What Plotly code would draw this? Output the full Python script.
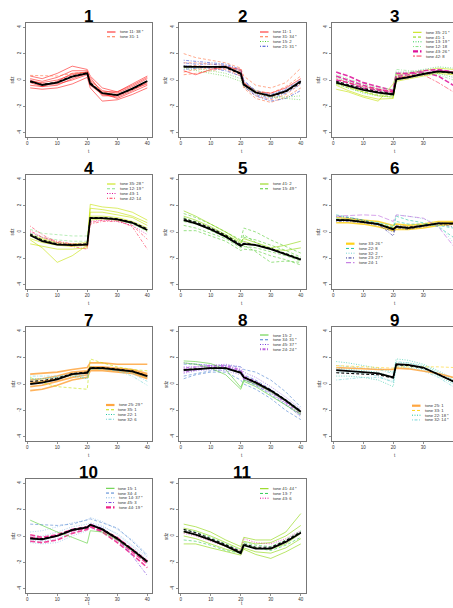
import plotly.graph_objects as go

# ---------------- data ----------------
X = [1, 5, 10, 15, 20, 21, 25, 30, 35, 40]
X_TICKS = [0, 10, 20, 30, 40]
Y_TICKS = [-4, -2, 0, 2, 4]
Y_TICK_TEXT = ["-4", "-2", "0", "2", "4"]
PANEL_TITLES = ["1", "2", "3", "4", "5", "6", "7", "8", "9", "10", "11"]
X_LABEL = "t"
Y_LABEL = "sdz"

TONE_COLORS = {
    11: "#FF1A1A", 31: "#FF7040", 15: "#55CC33", 21: "#3344CC", 35: "#C4E100",
    41: "#88D400", 13: "#33CC55", 12: "#88E088", 43: "#DD1199", 42: "#FF3355",
    33: "#FFD21A", 22: "#22C5A0", 32: "#77D5D5", 23: "#333399", 24: "#BB66DD",
    25: "#FFA640", 34: "#4A80D0", 45: "#7A44DD", 14: "#7FB5E5", 44: "#EE2288",
}

P1_LEGEND = ["tone 11: 38 *", "tone 31: 1"]
P1_TONES = [11, 31]
P1_CURVES = [
    (11, [0.3, 0.1, 0.5, 1.05, 0.8, 0.3, -0.6, -0.9, -0.3, 0.3]),
    (11, [0.1, -0.1, 0.2, 0.7, 0.7, 0.0, -0.8, -1.0, -0.5, 0.1]),
    (11, [-0.2, -0.5, -0.4, 0.1, 0.5, -0.4, -1.1, -1.3, -0.8, -0.2]),
    (11, [-0.6, -0.7, -0.6, -0.3, 0.2, -0.6, -1.6, -1.5, -1.1, -0.6]),
    (11, [-0.4, -0.5, -0.1, 0.5, 0.6, -0.1, -1.2, -1.2, -0.7, -0.3]),
    (11, [0.0, -0.3, -0.3, 0.0, 0.4, 0.2, -1.0, -1.4, -0.9, -0.4]),
    (11, [-0.1, -0.2, 0.0, 0.4, 0.6, -0.3, -0.9, -0.9, -0.4, 0.2]),
    (31, [0.35, 0.35, 0.3, 0.5, 0.6, 0.0, -0.9, -1.1, -0.7, -0.1]),
]
P1_MEAN = [-0.08, -0.38, -0.2, 0.25, 0.5, -0.3, -1.0, -1.15, -0.65, -0.08]
P1_MEAN2 = [-0.15, -0.35, -0.15, 0.3, 0.55, -0.2, -1.0, -1.15, -0.7, -0.1]

P2_LEGEND = ["tone 11: 1", "tone 31: 34 *", "tone 15: 2", "tone 21: 31 *"]
P2_TONES = [11, 31, 15, 21]
P2_CURVES = [
    (31, [2.0, 1.7, 1.5, 1.3, 0.9, 0.3, -0.4, -0.6, -0.2, 0.9]),
    (31, [1.3, 1.3, 1.2, 1.1, 0.6, -0.2, -0.8, -1.0, -0.5, 0.3]),
    (31, [0.6, 0.8, 0.9, 0.8, 0.3, -0.5, -1.2, -1.5, -1.1, -0.3]),
    (31, [1.0, 1.1, 1.0, 1.0, 0.7, -0.4, -1.0, -1.3, -0.9, -0.1]),
    (31, [0.4, 0.5, 0.7, 0.9, 0.4, -0.6, -1.4, -1.7, -1.3, -0.6]),
    (21, [1.3, 1.2, 1.2, 1.1, 0.7, -0.1, -0.8, -1.1, -0.7, 0.0]),
    (21, [0.8, 0.9, 1.0, 0.9, 0.5, -0.4, -1.1, -1.4, -1.0, -0.3]),
    (21, [1.5, 1.4, 1.3, 1.2, 0.8, 0.0, -0.9, -1.2, -0.8, -0.2]),
    (21, [1.1, 1.0, 0.9, 0.7, 0.3, -0.5, -1.2, -1.6, -1.4, -0.8]),
    (11, [0.7, 0.4, 0.8, 1.0, 0.8, -0.2, -0.9, -1.0, -0.6, 0.1]),
    (15, [0.9, 0.7, 0.5, 0.3, -0.1, -0.5, -1.0, -1.3, -1.4, -1.5]),
    (15, [1.0, 0.9, 0.7, 0.5, 0.1, -0.3, -0.8, -1.2, -1.3, -1.2]),
]
P2_MEAN = [1.0, 1.0, 1.05, 1.0, 0.5, -0.35, -0.95, -1.2, -0.85, -0.1]
P2_MEAN2 = [1.05, 1.05, 1.0, 0.95, 0.45, -0.3, -0.95, -1.25, -0.9, -0.2]

P3_LEGEND = ["tone 35: 21 *", "tone 41: 1", "tone 13: 19 *", "tone 12: 18", "tone 43: 26 *", "tone 42: 8"]
P3_TONES = [35, 41, 13, 12, 43, 42]
P3_CURVES = [
    (35, [-0.4, -0.8, -1.2, -1.45, -1.4, 0.2, 0.3, 0.5, 0.6, 0.5]),
    (35, [-0.7, -0.9, -1.3, -1.6, -0.3, 0.4, 0.5, 0.7, 0.9, 0.8]),
    (35, [-0.2, -0.5, -0.9, -1.2, -1.3, -0.1, 0.1, 0.3, 0.5, 0.4]),
    (43, [0.6, 0.3, -0.2, -0.5, -0.8, 0.5, 0.5, 0.7, 0.8, 0.6]),
    (43, [0.3, 0.0, -0.4, -0.7, -0.9, 0.3, 0.4, 0.6, 0.3, -0.4]),
    (43, [0.0, -0.2, -0.6, -0.8, -1.0, 0.2, 0.2, 0.5, 0.7, 0.6]),
    (13, [0.2, -0.1, -0.5, -0.8, -1.0, 0.6, 0.6, 0.8, 1.0, 0.9]),
    (13, [-0.3, -0.6, -1.0, -1.2, -1.3, 0.0, 0.2, 0.4, 0.5, 0.2]),
    (12, [0.4, 0.1, -0.3, -0.6, -0.7, 0.8, 0.7, 0.6, 0.4, 0.0]),
    (12, [-0.1, -0.4, -0.8, -1.0, -1.1, 0.3, 0.4, 0.5, 0.6, 0.5]),
    (42, [0.1, -0.2, -0.5, -0.7, -0.9, 0.1, 0.3, 0.4, -0.2, -0.9]),
    (41, [-0.3, -0.6, -0.9, -1.1, -1.2, 0.0, 0.2, 0.4, 0.6, 0.6]),
]
P3_MEAN = [-0.2, -0.45, -0.75, -0.95, -1.1, 0.05, 0.2, 0.45, 0.65, 0.55]
P3_MEAN2 = [-0.1, -0.35, -0.65, -0.9, -1.05, 0.1, 0.25, 0.5, 0.65, 0.5]

P4_LEGEND = ["tone 35: 28 *", "tone 12: 19 *", "tone 43: 1", "tone 42: 14"]
P4_TONES = [35, 12, 43, 42]
P4_CURVES = [
    (35, [-0.2, -0.5, -0.8, -0.9, -0.8, 2.1, 1.9, 1.8, 1.5, 0.9]),
    (35, [-0.5, -0.8, -1.0, -1.1, -1.0, 1.5, 1.5, 1.3, 1.1, 0.5]),
    (35, [-0.9, -1.1, -1.3, -1.3, -1.2, 0.9, 1.0, 0.9, 0.7, 0.1]),
    (35, [-0.6, -1.2, -2.3, -1.8, -1.0, 1.2, 1.2, 1.1, 0.8, 0.3]),
    (35, [-0.3, -0.6, -0.9, -1.0, -0.9, 1.8, 1.7, 1.5, 1.2, 0.7]),
    (12, [0.2, -0.1, -0.2, -0.3, -0.3, 1.1, 1.1, 1.0, 0.7, 0.0]),
    (12, [-0.1, -0.4, -0.6, -0.7, -0.7, 1.0, 1.0, 0.9, 0.6, 0.1]),
    (42, [0.45, -0.2, -0.8, -1.1, -1.3, 0.6, 0.8, 0.8, 0.5, -0.55]),
    (42, [0.1, -0.4, -0.7, -0.9, -1.1, 0.7, 0.9, 0.9, 0.4, -1.3]),
    (43, [0.0, -0.4, -0.8, -0.9, -0.9, 0.8, 0.9, 0.8, 0.5, -0.2]),
]
P4_MEAN = [-0.25, -0.7, -0.95, -1.0, -0.95, 1.05, 1.05, 0.95, 0.7, 0.15]
P4_MEAN2 = [-0.15, -0.6, -0.9, -0.95, -0.9, 1.1, 1.1, 1.0, 0.75, 0.25]

P5_LEGEND = ["tone 41: 2", "tone 15: 49 *"]
P5_TONES = [41, 15]
P5_CURVES = [
    (15, [1.4, 1.1, 0.6, 0.0, -0.6, 0.3, 0.0, -0.6, -1.1, -1.6]),
    (15, [1.0, 0.8, 0.3, -0.2, -0.9, -0.4, -0.6, -1.0, -1.4, -1.9]),
    (15, [0.5, 0.3, -0.1, -0.5, -1.2, -1.1, -1.2, -1.5, -1.8, -2.2]),
    (15, [0.1, 0.1, -0.3, -0.7, -1.4, -1.3, -1.4, -1.8, -2.1, -2.5]),
    (15, [0.8, 0.6, 0.2, -0.3, -1.0, -0.2, -0.8, -1.3, -1.6, -2.0]),
    (15, [1.1, 0.7, 0.1, -0.4, -1.1, -1.0, -1.5, -2.3, -2.2, -2.3]),
    (41, [1.6, 1.2, 0.6, 0.0, -0.7, -0.5, -0.8, -1.2, -1.0, -0.7]),
    (41, [1.2, 0.9, 0.4, -0.2, -0.8, -0.7, -1.0, -1.3, -1.4, -1.2]),
]
P5_MEAN = [0.9, 0.65, 0.2, -0.35, -1.05, -0.9, -1.0, -1.3, -1.7, -2.1]
P5_MEAN2 = [1.0, 0.75, 0.3, -0.25, -0.95, -0.85, -0.95, -1.25, -1.65, -2.05]

P6_LEGEND = ["tone 33: 26 *", "tone 22: 8", "tone 32: 2", "tone 23: 27 *", "tone 24: 1"]
P6_TONES = [33, 22, 32, 23, 24]
P6_CURVES = [
    (33, [1.1, 1.0, 0.9, 0.8, 0.5, 0.6, 0.5, 0.6, 0.8, 0.8]),
    (33, [0.7, 0.7, 0.6, 0.4, 0.1, 0.2, 0.2, 0.3, 0.5, 0.6]),
    (33, [0.9, 0.9, 0.8, 0.6, 0.3, 0.4, 0.35, 0.45, 0.65, 0.7]),
    (23, [1.2, 1.1, 0.9, 0.6, -0.3, 0.5, 0.4, 0.5, 0.7, 0.6]),
    (23, [0.8, 0.8, 0.7, 0.5, 0.0, 0.3, 0.2, 0.4, 0.6, 0.4]),
    (22, [1.0, 0.9, 0.8, 0.6, 0.3, 1.2, 0.9, 0.7, 0.4, -0.4]),
    (22, [1.3, 1.1, 0.9, 0.7, 0.4, 0.8, 0.6, 0.6, 0.5, 0.3]),
    (32, [1.1, 1.0, 0.8, 0.7, 0.5, 1.3, 1.2, 1.0, 0.6, -0.8]),
    (24, [1.2, 1.25, 1.3, 1.25, 0.8, 1.3, 1.2, 1.05, 0.4, -1.05]),
]
P6_MEAN = [0.9, 0.9, 0.75, 0.6, 0.2, 0.4, 0.3, 0.45, 0.65, 0.65]
P6_MEAN2 = [0.95, 0.9, 0.8, 0.6, 0.25, 0.4, 0.35, 0.5, 0.65, 0.6]

P7_LEGEND = ["tone 25: 29 *", "tone 35: 1", "tone 22: 1", "tone 32: 6"]
P7_TONES = [25, 35, 22, 32]
P7_CURVES = [
    (25, [0.75, 0.8, 0.9, 1.1, 1.25, 1.6, 1.6, 1.5, 1.5, 1.5]),
    (25, [0.3, 0.4, 0.6, 0.9, 1.0, 1.3, 1.3, 1.2, 1.1, 0.8]),
    (25, [-0.2, -0.1, 0.2, 0.5, 0.7, 1.1, 1.1, 1.0, 0.9, 0.5]),
    (25, [-0.5, -0.4, -0.1, 0.3, 0.5, 1.0, 1.0, 0.9, 0.8, 0.4]),
    (25, [0.1, 0.2, 0.4, 0.7, 0.9, 1.2, 1.25, 1.15, 1.0, 0.7]),
    (35, [0.5, 0.1, -0.2, -0.3, -0.4, 1.9, 1.6, 1.3, 1.1, 1.0]),
    (22, [0.4, 0.4, 0.5, 0.6, 0.4, 1.3, 1.2, 1.1, 0.9, 0.5]),
    (32, [0.6, 0.6, 0.6, 0.7, 0.4, 1.2, 1.2, 1.0, 0.6, -0.1]),
    (32, [0.3, 0.4, 0.5, 0.7, 0.6, 1.1, 1.1, 1.0, 0.8, 0.2]),
]
P7_MEAN = [0.0, 0.1, 0.35, 0.75, 0.85, 1.2, 1.2, 1.1, 0.95, 0.6]
P7_MEAN2 = [0.2, 0.25, 0.45, 0.8, 0.9, 1.25, 1.25, 1.15, 1.0, 0.6]

P8_LEGEND = ["tone 15: 2", "tone 34: 31 *", "tone 45: 37 *", "tone 24: 24 *"]
P8_TONES = [15, 34, 45, 24]
P8_CURVES = [
    (34, [1.5, 1.5, 1.4, 1.4, 1.3, 1.1, 0.9, 0.3, -0.6, -1.75]),
    (34, [0.6, 0.8, 1.0, 1.1, 0.9, 0.3, -0.1, -0.8, -1.6, -2.4]),
    (34, [1.0, 1.1, 1.2, 1.2, 1.0, 0.7, 0.3, -0.4, -1.2, -2.0]),
    (34, [0.4, 0.7, 0.9, 0.9, 0.3, 0.0, -0.4, -1.1, -2.0, -2.7]),
    (45, [1.3, 1.3, 1.3, 1.2, 1.0, 0.6, 0.2, -0.5, -1.3, -2.2]),
    (45, [0.8, 1.0, 1.1, 1.0, 0.7, 0.4, -0.1, -0.7, -1.5, -2.5]),
    (45, [1.6, 1.5, 1.4, 1.5, 1.3, 0.9, 0.5, -0.2, -1.0, -1.9]),
    (24, [1.2, 1.3, 1.4, 1.4, 1.1, 0.6, 0.2, -0.5, -1.3, -2.1]),
    (24, [0.9, 1.1, 1.3, 1.3, 1.0, 0.4, 0.0, -0.6, -1.4, -2.3]),
    (15, [1.75, 1.7, 1.55, 1.1, -0.25, 0.3, 0.0, -0.6, -1.3, -2.2]),
    (15, [1.6, 1.5, 1.2, 0.7, -0.4, 0.2, -0.2, -0.9, -1.6, -2.3]),
]
P8_MEAN = [1.05, 1.1, 1.2, 1.2, 0.85, 0.5, 0.1, -0.5, -1.25, -2.1]
P8_MEAN2 = [1.1, 1.15, 1.2, 1.2, 0.9, 0.55, 0.15, -0.45, -1.2, -2.05]

P9_LEGEND = ["tone 25: 1", "tone 33: 1", "tone 22: 18 *", "tone 32: 14 *"]
P9_TONES = [25, 33, 22, 32]
P9_CURVES = [
    (22, [1.7, 1.6, 1.4, 1.2, 0.9, 1.9, 1.8, 1.5, 1.0, 0.4]),
    (22, [0.6, 0.6, 0.5, 0.3, -0.2, 1.4, 1.3, 1.1, 0.6, 0.0]),
    (22, [1.2, 1.1, 1.0, 0.9, 0.5, 1.6, 1.6, 1.4, 0.9, 0.3]),
    (32, [1.4, 1.3, 1.2, 1.1, 0.8, 1.7, 1.6, 1.3, 0.8, 0.1]),
    (32, [0.3, 0.4, 0.5, 0.5, 0.2, 1.3, 1.2, 1.0, 0.5, -0.2]),
    (32, [0.9, 0.9, 0.8, 0.6, 0.1, 1.5, 1.4, 1.2, 0.7, 0.2]),
    (25, [1.25, 1.2, 1.15, 1.1, 1.1, 1.2, 1.15, 1.0, 0.8, 0.5]),
    (33, [1.4, 1.35, 1.3, 1.25, 1.2, 1.3, 1.3, 1.35, 1.3, 1.25]),
]
P9_MEAN = [1.05, 1.0, 0.9, 0.8, 0.5, 1.5, 1.45, 1.25, 0.75, 0.2]
P9_MEAN2 = [0.85, 0.8, 0.75, 0.7, 0.45, 1.45, 1.4, 1.2, 0.75, 0.2]

P10_LEGEND = ["tone 15: 1", "tone 34: 4", "tone 14: 37 *", "tone 45: 3", "tone 44: 19 *"]
P10_TONES = [15, 34, 14, 45, 44]
P10_CURVES = [
    (14, [0.3, 0.4, 0.7, 1.0, 1.2, 1.4, 1.1, 0.5, -0.3, -1.4]),
    (14, [-0.5, -0.6, -0.5, 0.0, 0.4, 0.6, 0.3, -0.4, -1.2, -2.1]),
    (14, [0.0, 0.0, 0.3, 0.7, 0.9, 1.0, 0.8, 0.1, -0.8, -1.8]),
    (14, [-0.3, -0.4, -0.2, 0.3, 0.6, 0.9, 0.7, 0.2, -0.7, -1.6]),
    (44, [0.1, -0.1, 0.1, 0.5, 0.7, 0.9, 0.5, -0.3, -1.2, -2.1]),
    (44, [-0.4, -0.5, -0.3, 0.2, 0.5, 0.7, 0.3, -0.5, -1.4, -2.4]),
    (44, [-0.1, -0.2, 0.0, 0.4, 0.6, 0.8, 0.4, -0.1, -1.0, -1.9]),
    (45, [-0.2, -0.3, 0.0, 0.5, 0.7, 0.9, 0.6, -0.2, -1.5, -3.0]),
    (34, [0.9, 0.85, 0.8, 0.9, 1.2, 1.3, 1.0, 0.6, -0.4, -1.5]),
    (15, [1.2, 0.8, 0.3, -0.1, -0.55, 0.4, 0.3, -0.3, -1.1, -2.0]),
]
P10_MEAN = [-0.2, -0.25, 0.0, 0.45, 0.65, 0.85, 0.5, -0.2, -1.05, -1.95]
P10_MEAN2 = [-0.15, -0.2, 0.05, 0.5, 0.7, 0.85, 0.55, -0.15, -1.0, -1.9]

P11_LEGEND = ["tone 41: 44 *", "tone 13: 7", "tone 43: 6"]
P11_TONES = [41, 13, 43]
P11_CURVES = [
    (41, [0.9, 0.7, 0.3, -0.3, -0.8, -0.1, -0.3, -0.3, 0.3, 1.7]),
    (41, [0.6, 0.4, 0.0, -0.5, -1.0, -0.4, -0.6, -0.5, 0.0, 0.8]),
    (41, [0.0, -0.2, -0.6, -1.0, -1.3, -0.9, -1.2, -1.3, -0.9, -0.2]),
    (41, [-0.6, -0.6, -0.9, -1.2, -1.45, -1.0, -1.4, -1.7, -1.2, -0.6]),
    (41, [0.3, 0.1, -0.3, -0.8, -1.2, -0.7, -0.9, -1.0, -0.6, 0.2]),
    (13, [0.5, 0.3, -0.1, -0.6, -1.1, -0.5, -0.7, -0.8, -0.3, 0.4]),
    (13, [-0.3, -0.4, -0.7, -1.1, -1.3, -0.6, -0.9, -1.1, -0.7, -0.1]),
    (43, [0.2, 0.0, -0.4, -0.8, -1.1, -0.2, -0.5, -0.6, -0.2, 0.4]),
]
P11_MEAN = [0.35, 0.1, -0.3, -0.75, -1.3, -0.7, -0.95, -0.95, -0.45, 0.25]
P11_MEAN2 = [0.5, 0.25, -0.2, -0.65, -1.2, -0.6, -0.85, -0.85, -0.35, 0.3]

PANELS = [
    (P1_CURVES, P1_MEAN, P1_MEAN2, P1_TONES, P1_LEGEND),
    (P2_CURVES, P2_MEAN, P2_MEAN2, P2_TONES, P2_LEGEND),
    (P3_CURVES, P3_MEAN, P3_MEAN2, P3_TONES, P3_LEGEND),
    (P4_CURVES, P4_MEAN, P4_MEAN2, P4_TONES, P4_LEGEND),
    (P5_CURVES, P5_MEAN, P5_MEAN2, P5_TONES, P5_LEGEND),
    (P6_CURVES, P6_MEAN, P6_MEAN2, P6_TONES, P6_LEGEND),
    (P7_CURVES, P7_MEAN, P7_MEAN2, P7_TONES, P7_LEGEND),
    (P8_CURVES, P8_MEAN, P8_MEAN2, P8_TONES, P8_LEGEND),
    (P9_CURVES, P9_MEAN, P9_MEAN2, P9_TONES, P9_LEGEND),
    (P10_CURVES, P10_MEAN, P10_MEAN2, P10_TONES, P10_LEGEND),
    (P11_CURVES, P11_MEAN, P11_MEAN2, P11_TONES, P11_LEGEND),
]

# ---------------- styling / layout ----------------
W, H = 453, 608
COL_LEFT = [25.5, 179.0, 331.5]
ROW_TOP = [23.0, 175.0, 327.0, 479.0]
BOX_W, BOX_H = 126.5, 114.0
X0 = -0.56
X_SPAN = 42.12
Y_RANGE = [-4.32, 4.32]
LTY = ["solid", "3px,2px", "1px,1.5px", "1px,1.5px,3px,1.5px", "5px,2px", "2px,1.5px,5px,1.5px"]
THICK = {(3, 43), (6, 33), (7, 25), (8, 24), (9, 25), (10, 44)}
LEG_POS = {1: (107, 32), 2: (260, 32), 3: (413, 32.3), 4: (107, 184), 5: (260, 184),
           6: (346, 243.7), 7: (106, 405), 8: (260, 335), 9: (412, 405.7),
           10: (106, 488.3), 11: (260, 488.7)}
LEG_STEP = 4.75
FONT = "Liberation Sans, Arial, sans-serif"


def px(x):
    return x / W


def py(y):
    return 1 - y / H


fig = go.Figure()
shapes = []
annotations = []

for i, (curves, mean, mean2, tones, legend) in enumerate(PANELS):
    pnum = i + 1
    r, c = divmod(i, 3)
    left = COL_LEFT[c]
    right = min(left + BOX_W, W)
    top = ROW_TOP[r]
    bottom = top + BOX_H
    sfx = "" if i == 0 else str(pnum)
    xref, yref = "x" + sfx, "y" + sfx
    x_end = X0 + X_SPAN * (right - left) / BOX_W

    fig.layout["xaxis" + sfx] = dict(
        domain=[px(left), px(right)], range=[X0, x_end], anchor=yref,
        tickvals=X_TICKS, ticks="outside", ticklen=2, tickwidth=0.6, tickcolor="#444",
        tickfont=dict(size=4.5, family=FONT, color="#333"),
        showgrid=False, zeroline=False, showline=True, mirror=True,
        linecolor="#777", linewidth=1,
    )
    fig.layout["yaxis" + sfx] = dict(
        domain=[py(bottom), py(top)], range=Y_RANGE, anchor=xref,
        tickvals=Y_TICKS, ticktext=Y_TICK_TEXT, tickangle=-90,
        ticks="outside", ticklen=2, tickwidth=0.6, tickcolor="#444",
        tickfont=dict(size=4.5, family=FONT, color="#333"),
        showgrid=False, zeroline=False, showline=True, mirror=True,
        linecolor="#777", linewidth=1,
    )

    for tone, vals in curves:
        k = tones.index(tone)
        w = 1.6 if (pnum, tone) in THICK else 0.7
        fig.add_trace(go.Scatter(
            x=X, y=vals, mode="lines", xaxis=xref, yaxis=yref,
            line=dict(color=TONE_COLORS[tone], width=w, dash=LTY[k]),
            opacity=0.85, hoverinfo="skip", showlegend=False,
        ))
    fig.add_trace(go.Scatter(
        x=X, y=mean2, mode="lines", xaxis=xref, yaxis=yref,
        line=dict(color="#111", width=1.1, dash="3px,2px"),
        hoverinfo="skip", showlegend=False,
    ))
    fig.add_trace(go.Scatter(
        x=X, y=mean, mode="lines", xaxis=xref, yaxis=yref,
        line=dict(color="#000", width=1.8),
        hoverinfo="skip", showlegend=False,
    ))

    # titles and axis labels
    cx = left + BOX_W / 2
    annotations.append(dict(
        text="<b>%s</b>" % PANEL_TITLES[i], x=px(cx), y=py(top - 6.5),
        xref="paper", yref="paper", xanchor="center", yanchor="middle",
        showarrow=False, font=dict(size=17, family=FONT, color="#000"),
    ))
    annotations.append(dict(
        text=X_LABEL, x=px(cx), y=py(min(bottom + 14.5, H - 5)), xref="paper", yref="paper",
        xanchor="center", yanchor="middle", showarrow=False,
        font=dict(size=4.5, family=FONT, color="#333"),
    ))
    annotations.append(dict(
        text=Y_LABEL, x=px(left - 13), y=py(top + BOX_H / 2), xref="paper", yref="paper",
        xanchor="center", yanchor="middle", textangle=-90, showarrow=False,
        font=dict(size=4.5, family=FONT, color="#333"),
    ))

    # legend
    lx, ly = LEG_POS[pnum]
    for k, (tone, label) in enumerate(zip(tones, legend)):
        yy = ly + k * LEG_STEP
        w = 2.2 if (pnum, tone) in THICK else 1.0
        shapes.append(dict(
            type="line", xref="paper", yref="paper",
            x0=px(lx), x1=px(lx + 8.5), y0=py(yy), y1=py(yy),
            line=dict(color=TONE_COLORS[tone], width=w, dash=LTY[k]),
        ))
        annotations.append(dict(
            text=label, x=px(lx + 10.5), y=py(yy), xref="paper", yref="paper",
            xanchor="left", yanchor="middle", showarrow=False,
            font=dict(size=4.2, family=FONT, color="#333"),
        ))

fig.update_layout(
    width=W, height=H, margin=dict(l=0, r=0, t=0, b=0),
    paper_bgcolor="white", plot_bgcolor="white",
    showlegend=False, shapes=shapes, annotations=annotations,
)

fig.write_html(
    "out.html",
    config={"displayModeBar": False, "staticPlot": True},
    post_script="document.body.style.margin='0px';document.body.style.overflow='hidden';",
)
